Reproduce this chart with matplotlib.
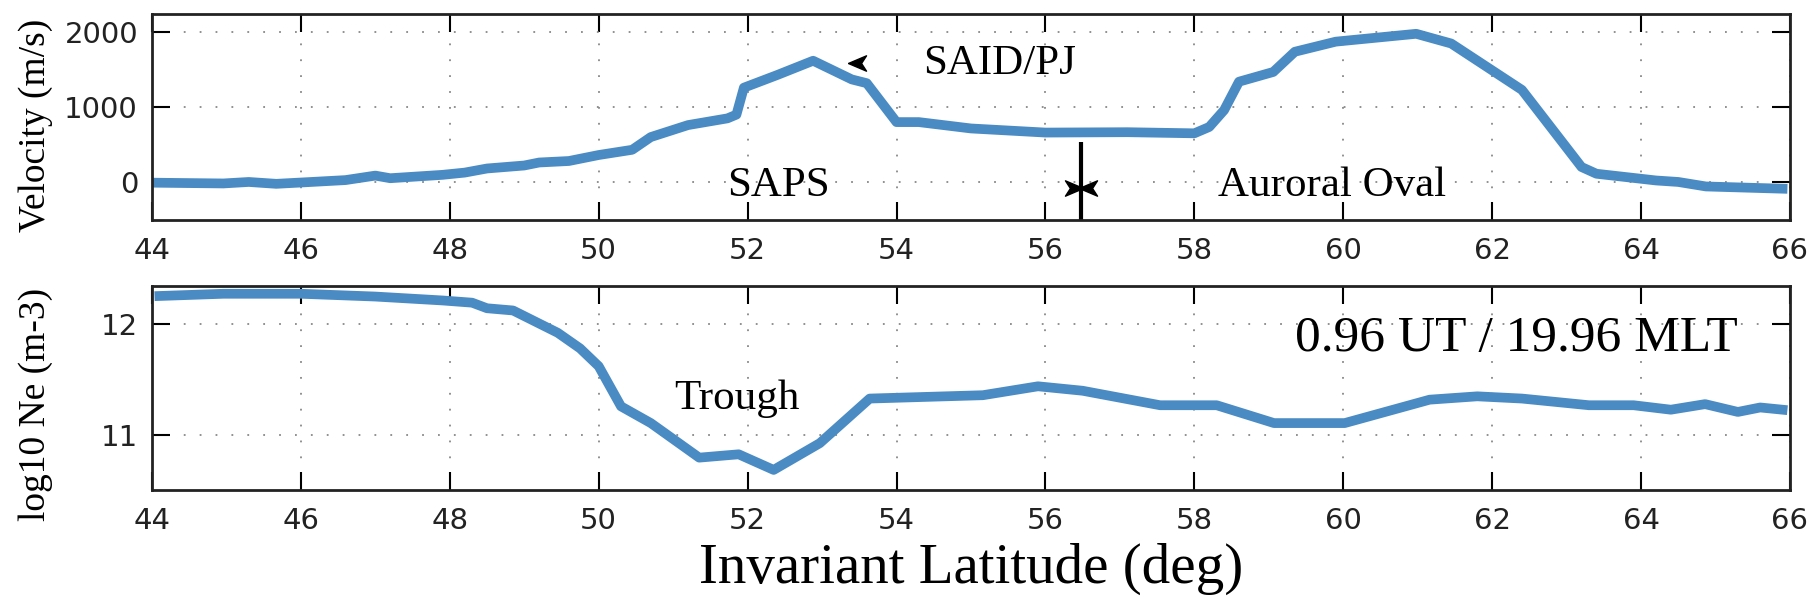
"""Velocity and electron density along an invariant-latitude pass."""

import matplotlib
matplotlib.use("Agg")
import matplotlib.pyplot as plt

# velocity profile (m/s) vs invariant latitude (deg)
lat_vel = [44.05, 44.5, 44.96, 45.3, 45.67, 46.14, 46.6, 47.0, 47.2, 47.9,
           48.2, 48.5, 49.0, 49.2, 49.6, 50.0, 50.45, 50.7, 51.2, 51.73,
           51.85, 51.95, 52.4, 52.88, 53.4, 53.6, 54.0, 54.3, 55.0, 56.0,
           57.1, 58.0, 58.2, 58.4, 58.6, 59.06, 59.35, 59.9, 60.98, 61.45,
           62.4, 63.2, 63.4, 64.2, 64.5, 64.87, 65.9]
velocity = [-10, -15, -20, 0, -25, 0, 25, 85, 50, 95,
            125, 180, 220, 260, 280, 360, 430, 600, 760, 850,
            900, 1260, 1430, 1620, 1370, 1320, 800, 800, 715, 660,
            665, 650, 735, 960, 1340, 1470, 1740, 1875, 1980, 1850,
            1230, 200, 110, 20, 0, -60, -90]

# log10 electron density (m-3)
lat_ne = [44.1, 44.96, 46.0, 47.0, 47.9, 48.3, 48.5, 48.85, 49.15, 49.45,
          49.75, 50.0, 50.3, 50.7, 51.35, 51.88, 52.35, 52.97, 53.64, 55.16,
          55.9, 56.5, 57.54, 58.3, 59.07, 60.02, 61.16, 61.8, 62.4, 63.3,
          63.9, 64.4, 64.86, 65.3, 65.6, 65.9]
log_ne = [12.25, 12.27, 12.27, 12.245, 12.21, 12.19, 12.14, 12.12, 12.02, 11.92,
          11.78, 11.62, 11.26, 11.11, 10.80, 10.83, 10.69, 10.93, 11.33, 11.36,
          11.44, 11.40, 11.27, 11.27, 11.11, 11.11, 11.32, 11.35, 11.33, 11.27,
          11.27, 11.23, 11.28, 11.21, 11.25, 11.23]

x_ticks = list(range(44, 67, 2))
vel_ticks = [0, 1000, 2000]
ne_ticks = [11, 12]

boundary_lat = 56.48      # SAPS / auroral oval boundary
boundary_top = 540
said_lat, said_vel = 53.47, 1590

LINE_COLOR = "#4a8bc4"
SERIF = "Liberation Serif"
TICK_FONT = "DejaVu Sans"

# concave arrowhead marker (points left)
ARROW_LEFT = [(-1, 0), (1, 0.85), (0.45, 0), (1, -0.85), (-1, 0)]
ARROW_RIGHT = [(-x, y) for x, y in ARROW_LEFT]


def style_axes(ax, yticks):
    ax.set_xlim(44, 66)
    ax.set_xticks(x_ticks)
    ax.set_yticks(yticks)
    ax.tick_params(direction="in", length=13, width=1.5, top=True, right=True,
                   labelsize=21, pad=12)
    ax.tick_params(axis="y", pad=10)
    for lbl in ax.get_xticklabels() + ax.get_yticklabels():
        lbl.set_fontfamily(TICK_FONT)
        lbl.set_color("#222222")
    ax.grid(True, color="#888888", linestyle=(0, (1, 7.8)), linewidth=1.3)
    for sp in ax.spines.values():
        sp.set_linewidth(2)
        sp.set_color("#222222")


fig = plt.figure(figsize=(18.11, 6.07), dpi=100)
ax1 = fig.add_axes([0.0839, 0.6376, 0.9045, 0.3394])
ax2 = fig.add_axes([0.0839, 0.1928, 0.9045, 0.3361])

# top panel: velocity
ax1.plot(lat_vel, velocity, color=LINE_COLOR, linewidth=7, solid_joinstyle="round")
ax1.set_ylim(-508, 2245)
style_axes(ax1, vel_ticks)
ax1.set_ylabel("Velocity (m/s)", family=SERIF, fontsize=27, va="center")
ax1.yaxis.set_label_coords(-0.0708, 0.461)

ax1.plot([boundary_lat, boundary_lat], [boundary_top, -508], color="black",
         linewidth=3, solid_capstyle="butt")
ax1.plot([boundary_lat - 0.09], [-80], marker=ARROW_RIGHT, color="black",
         markersize=13, linestyle="none")
ax1.plot([boundary_lat + 0.09], [-80], marker=ARROW_LEFT, color="black",
         markersize=13, linestyle="none")
ax1.plot([said_lat], [said_vel], marker=ARROW_LEFT, color="black",
         markersize=13, linestyle="none")

ax1.text(55.39, 1578, "SAID/PJ", family=SERIF, fontsize=31, ha="center", va="center")
ax1.text(52.42, -46, "SAPS", family=SERIF, fontsize=31, ha="center", va="center")
ax1.text(59.85, -46, "Auroral Oval", family=SERIF, fontsize=31, ha="center", va="center")

# bottom panel: electron density
ax2.plot(lat_ne, log_ne, color=LINE_COLOR, linewidth=7, solid_joinstyle="round")
ax2.set_ylim(10.51, 12.34)
style_axes(ax2, ne_ticks)
ax2.set_ylabel("log10 Ne (m-3)", family=SERIF, fontsize=27, va="center")
ax2.yaxis.set_label_coords(-0.0708, 0.42)

ax2.text(51.86, 11.33, "Trough", family=SERIF, fontsize=31, ha="center", va="center")
ax2.text(62.33, 11.87, "0.96 UT / 19.96 MLT", family=SERIF, fontsize=37,
         ha="center", va="center")

fig.text(0.536, 0.0395, "Invariant Latitude (deg)", family=SERIF, fontsize=41,
         ha="center", va="baseline")

fig.savefig("out.png", dpi=100)
